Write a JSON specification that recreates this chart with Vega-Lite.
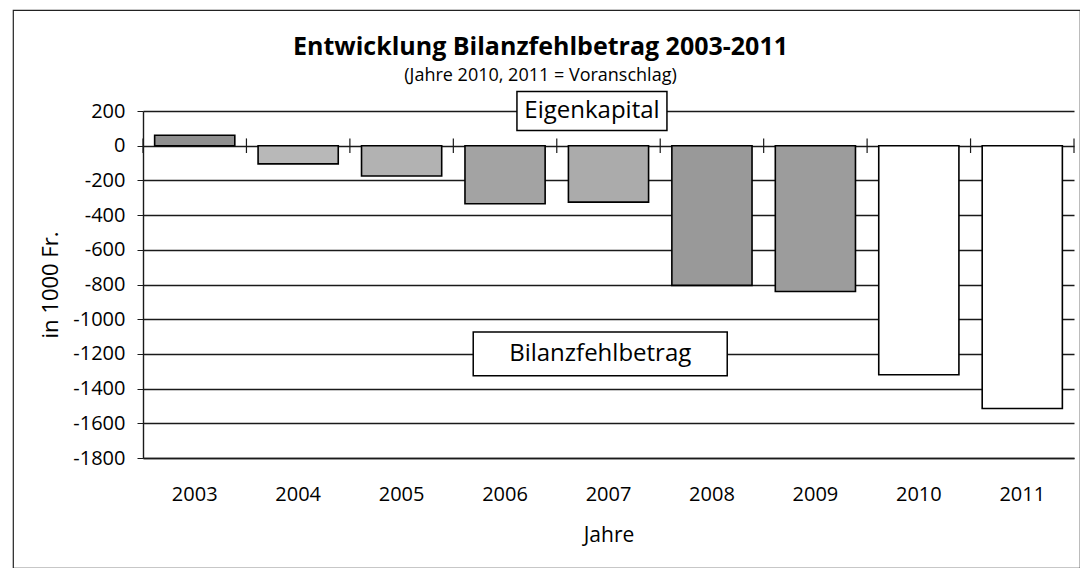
{
  "$schema": "https://vega.github.io/schema/vega-lite/v6.json",
  "width": 1067,
  "height": 558,
  "autosize": {"type": "none"},
  "padding": {"left": 13, "top": 10, "right": 0, "bottom": 0},
  "background": "white",
  "config": {
    "view": {"stroke": "#222222", "strokeWidth": 1.2},
    "font": "Open Sans",
    "axis": {"labelFont": "Open Sans", "titleFont": "Open Sans", "labelColor": "black", "titleColor": "black", "titleFontWeight": "normal"}
  },
  "title": {
    "text": "Entwicklung Bilanzfehlbetrag 2003-2011",
    "subtitle": "(Jahre 2010, 2011 = Voranschlag)",
    "anchor": "middle",
    "frame": "group",
    "offset": -75,
    "dx": -6,
    "font": "Open Sans",
    "fontSize": 25,
    "fontWeight": "bold",
    "color": "black",
    "subtitleFont": "Open Sans",
    "subtitleFontSize": 18,
    "subtitleColor": "black",
    "subtitlePadding": 7
  },
  "datasets": {
    "werte": [
      {"Jahr": "2003", "Wert": 60},
      {"Jahr": "2004", "Wert": -105},
      {"Jahr": "2005", "Wert": -175},
      {"Jahr": "2006", "Wert": -335},
      {"Jahr": "2007", "Wert": -325},
      {"Jahr": "2008", "Wert": -805},
      {"Jahr": "2009", "Wert": -840},
      {"Jahr": "2010", "Wert": -1320},
      {"Jahr": "2011", "Wert": -1515}
    ]
  },
  "layer": [
    {
      "data": {"name": "werte"},
      "mark": {"type": "bar", "stroke": "black", "strokeWidth": 1.6, "width": {"band": 0.775}},
      "encoding": {
        "x": {
          "field": "Jahr",
          "type": "ordinal",
          "scale": {"range": [130, 1061], "paddingInner": 0, "paddingOuter": 0},
          "axis": {
            "orient": "bottom",
            "offset": -110,
            "title": "Jahre",
            "grid": false,
            "domain": true,
            "domainColor": "#1a1a1a",
            "domainWidth": 1.4,
            "ticks": false,
            "tickSize": 0,
            "labelAngle": 0,
            "labelFontSize": 20,
            "labelPadding": 26,
            "titleFontSize": 21,
            "titlePadding": 20
          }
        },
        "y": {
          "field": "Wert",
          "type": "quantitative",
          "scale": {"domain": [-1800, 200], "range": [448, 101], "nice": false},
          "axis": {
            "values": [-1800, -1600, -1400, -1200, -1000, -800, -600, -400, -200, 0, 200],
            "labelExpr": "'' + datum.value",
            "title": "in 1000 Fr.",
            "offset": -130,
            "grid": true,
            "gridColor": "#1a1a1a",
            "gridWidth": 1.3,
            "domainColor": "#1a1a1a",
            "domainWidth": 1.4,
            "tickColor": "#1a1a1a",
            "tickSize": 6,
            "labelFontSize": 20,
            "labelPadding": 12,
            "titleFontSize": 22,
            "titlePadding": 10
          }
        },
        "color": {
          "field": "Jahr",
          "type": "nominal",
          "scale": {"range": ["#8f8f8f", "#b8b8b8", "#b2b2b2", "#a3a3a3", "#ababab", "#999999", "#9c9c9c", "#ffffff", "#ffffff"]},
          "legend": null
        }
      }
    },
    {
      "data": {"name": "werte"},
      "mark": {"type": "rule", "color": "#1a1a1a", "strokeWidth": 1.2},
      "encoding": {
        "x": {"field": "Jahr", "type": "ordinal", "bandPosition": 0},
        "y": {"datum": -42},
        "y2": {"datum": 42}
      }
    },
    {
      "data": {"values": [{"Jahr": "2011"}]},
      "mark": {"type": "rule", "color": "#1a1a1a", "strokeWidth": 1.2},
      "encoding": {
        "x": {"field": "Jahr", "type": "ordinal", "bandPosition": 1},
        "y": {"datum": -42},
        "y2": {"datum": 42}
      }
    },
    {
      "data": {"values": [{"Jahr": "2007", "Wert": 200, "Text": "Eigenkapital"}]},
      "layer": [
        {
          "mark": {"type": "point", "shape": "M-1,-0.26H1V0.26H-1Z", "size": 22500, "filled": true, "fill": "white", "stroke": "black", "strokeWidth": 1.5, "opacity": 1},
          "encoding": {
            "x": {"field": "Jahr", "type": "ordinal", "bandPosition": 0.34},
            "y": {"field": "Wert", "type": "quantitative"}
          }
        },
        {
          "mark": {"type": "text", "font": "Open Sans", "fontSize": 24, "color": "black", "align": "center", "baseline": "middle"},
          "encoding": {
            "x": {"field": "Jahr", "type": "ordinal", "bandPosition": 0.34},
            "y": {"field": "Wert", "type": "quantitative"},
            "text": {"field": "Text"}
          }
        }
      ]
    },
    {
      "data": {"values": [{"Jahr": "2007", "Wert": -1200, "Text": "Bilanzfehlbetrag"}]},
      "layer": [
        {
          "mark": {"type": "point", "shape": "M-1,-0.173H1V0.173H-1Z", "size": 64516, "filled": true, "fill": "white", "stroke": "black", "strokeWidth": 1.5, "opacity": 1},
          "encoding": {
            "x": {"field": "Jahr", "type": "ordinal", "bandPosition": 0.42},
            "y": {"field": "Wert", "type": "quantitative"}
          }
        },
        {
          "mark": {"type": "text", "font": "Open Sans", "fontSize": 24, "color": "black", "align": "center", "baseline": "middle"},
          "encoding": {
            "x": {"field": "Jahr", "type": "ordinal", "bandPosition": 0.42},
            "y": {"field": "Wert", "type": "quantitative"},
            "text": {"field": "Text"}
          }
        }
      ]
    }
  ]
}
